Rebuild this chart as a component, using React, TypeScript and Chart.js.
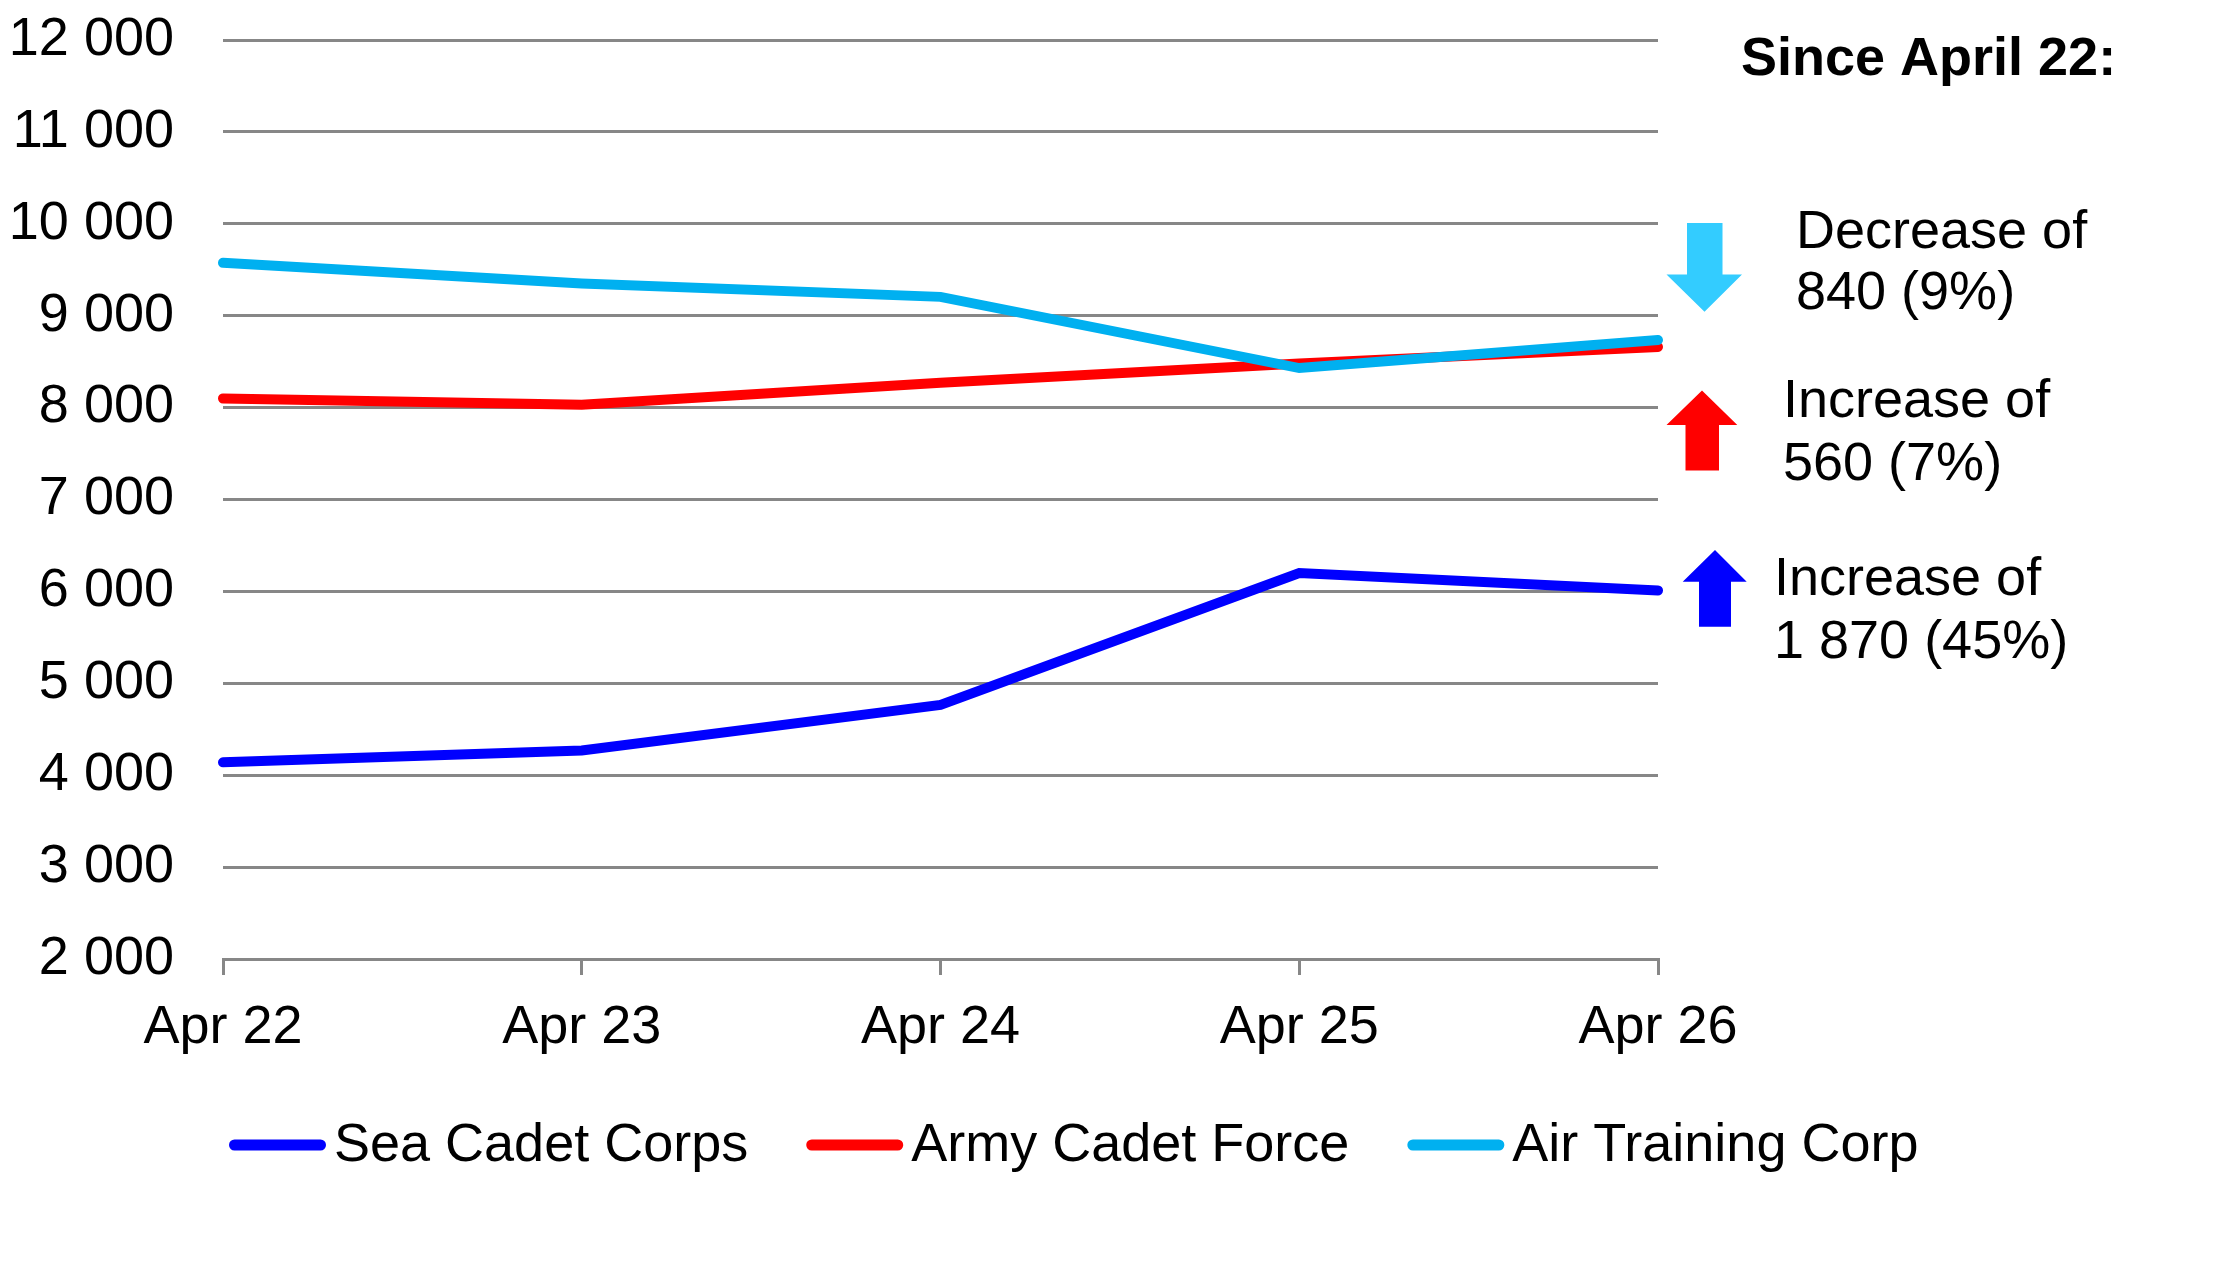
import React, { useEffect, useRef } from "react";
import { Chart, registerables } from "chart.js";

Chart.register(...registerables);

const categories = ["Apr 22", "Apr 23", "Apr 24", "Apr 25", "Apr 26"];
const seriesNames = ["Sea Cadet Corps", "Army Cadet Force", "Air Training Corp"];
const seaCadet = [4140, 4270, 4765, 6200, 6010];
const armyCadet = [8100, 8030, 8270, 8480, 8660];
const airTraining = [9575, 9350, 9205, 8430, 8735];
const seriesColors = ["#0000FF", "#FF0000", "#00B0F0"];
const yMin = 2000;
const yMax = 12000;
const yStep = 1000;
const summaryTitle = "Since April 22:";
const summaryLines = [
  ["Decrease of", "840 (9%)"],
  ["Increase of", "560 (7%)"],
  ["Increase of", "1 870 (45%)"],
];
const arrowColors = ["#33CCFF", "#FF0000", "#0000FF"];

const FONT = '"Liberation Sans", Arial, sans-serif';

function fmt(v: number): string {
  return String(v).replace(/\B(?=(\d{3})+(?!\d))/g, " ");
}

function drawArrow(
  ctx: CanvasRenderingContext2D,
  color: string,
  tipX: number,
  tipY: number,
  headBaseY: number,
  headL: number,
  headR: number,
  shaftL: number,
  shaftR: number,
  endY: number
) {
  ctx.save();
  ctx.fillStyle = color;
  ctx.beginPath();
  ctx.moveTo(tipX, tipY);
  ctx.lineTo(headR, headBaseY);
  ctx.lineTo(shaftR, headBaseY);
  ctx.lineTo(shaftR, endY);
  ctx.lineTo(shaftL, endY);
  ctx.lineTo(shaftL, headBaseY);
  ctx.lineTo(headL, headBaseY);
  ctx.closePath();
  ctx.fill();
  ctx.restore();
}

const overlayPlugin = {
  id: "overlay",
  afterDraw(chart: any) {
    const ctx: CanvasRenderingContext2D = chart.ctx;
    ctx.save();
    // Legend
    let x = 229;
    const yLine = 1145;
    ctx.font = `54px ${FONT}`;
    ctx.textBaseline = "alphabetic";
    ctx.textAlign = "left";
    chart.data.datasets.forEach((ds: any) => {
      ctx.strokeStyle = ds.borderColor;
      ctx.lineWidth = 11;
      ctx.lineCap = "round";
      ctx.beginPath();
      ctx.moveTo(x + 5.5, yLine);
      ctx.lineTo(x + 91.5, yLine);
      ctx.stroke();
      ctx.fillStyle = "#000";
      const tx = x + 105;
      ctx.fillText(ds.label, tx, 1161);
      x = tx + ctx.measureText(ds.label).width + 58;
    });

    // Summary
    ctx.fillStyle = "#000";
    ctx.font = `bold 54px ${FONT}`;
    ctx.fillText(summaryTitle, 1741, 75);
    ctx.font = `54px ${FONT}`;
    const textPos = [
      [1796, 248, 309],
      [1783, 417, 480],
      [1774, 595, 658],
    ];
    summaryLines.forEach((lines, i) => {
      ctx.fillText(lines[0], textPos[i][0], textPos[i][1]);
      ctx.fillText(lines[1], textPos[i][0], textPos[i][2]);
    });

    drawArrow(ctx, arrowColors[0], 1704.5, 311.7, 274.5, 1666.5, 1742, 1687, 1722.5, 223);
    drawArrow(ctx, arrowColors[1], 1702, 390.5, 425, 1666.5, 1737.3, 1685.5, 1719, 470.5);
    drawArrow(ctx, arrowColors[2], 1715, 550, 581.7, 1682.7, 1746.7, 1699, 1731, 626.7);
    ctx.restore();
  },
};

export default function App() {
  const ref = useRef<HTMLCanvasElement>(null);
  useEffect(() => {
    document.body.style.margin = "0";
    const canvas = ref.current;
    if (!canvas) return;
    const data = [seaCadet, armyCadet, airTraining];
    const chart = new Chart(canvas, {
      type: "line",
      data: {
        labels: categories,
        datasets: seriesNames.map((name, i) => ({
          label: name,
          data: data[i],
          borderColor: seriesColors[i],
          backgroundColor: seriesColors[i],
          borderWidth: 10,
          pointRadius: 0,
          tension: 0,
          borderCapStyle: "round" as const,
          borderJoinStyle: "miter" as const,
          order: 2 - i,
        })),
      },
      options: {
        responsive: false,
        animation: false,
        devicePixelRatio: 1,
        layout: { padding: { left: 0, top: 40, right: 581, bottom: 0 } },
        plugins: { legend: { display: false }, tooltip: { enabled: false } },
        scales: {
          x: {
            type: "category",
            offset: false,
            grid: {
              display: true,
              drawOnChartArea: false,
              drawTicks: true,
              tickLength: 16,
              color: "#878787",
              lineWidth: 3,
            },
            border: { display: true, color: "#878787", width: 3 },
            ticks: {
              color: "#000",
              font: { family: FONT, size: 54 },
              padding: 21,
              maxRotation: 0,
              autoSkip: false,
            },
            afterFit(scale: any) {
              scale.height = 323;
              scale.paddingLeft = 0;
              scale.paddingRight = 0;
            },
          },
          y: {
            min: yMin,
            max: yMax,
            grid: { color: "#878787", lineWidth: 3, drawTicks: false },
            border: { display: false },
            ticks: {
              stepSize: yStep,
              color: "#000",
              font: { family: FONT, size: 54 },
              padding: 49,
              callback: (v: any) => fmt(Number(v)),
            },
            afterFit(scale: any) {
              scale.width = 223;
              scale.paddingTop = 0;
              scale.paddingBottom = 0;
            },
          },
        },
      },
      plugins: [overlayPlugin],
    });
    return () => chart.destroy();
  }, []);
  return (
    <canvas
      ref={ref}
      width={2239}
      height={1282}
      style={{ display: "block", width: 2239, height: 1282 }}
    />
  );
}
